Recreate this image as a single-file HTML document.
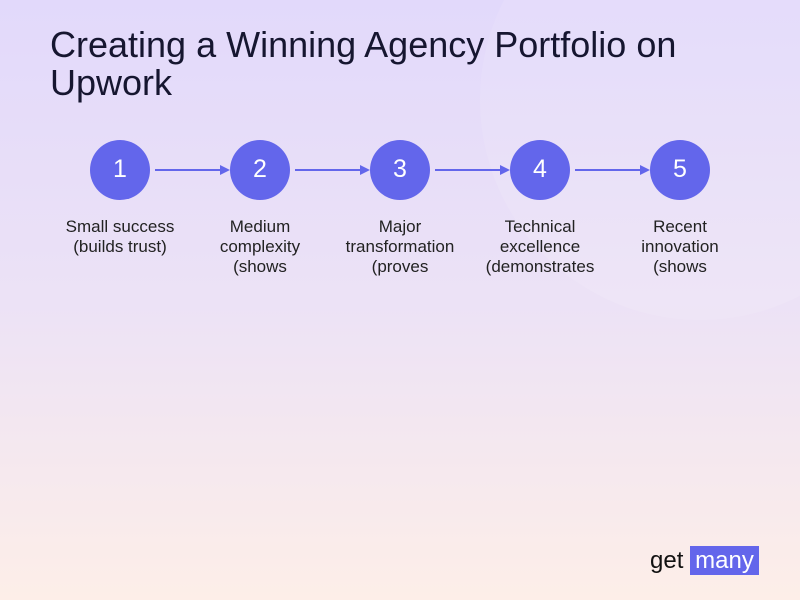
<!DOCTYPE html>
<html><head><style>
body{margin:0;width:800px;height:600px;overflow:hidden;font-family:"Liberation Sans",sans-serif;background:linear-gradient(#e2d9fb,#ece2f6 50%,#fdeee8);position:relative}
.bg{position:absolute;left:480px;top:-120px;width:440px;height:440px;border-radius:50%;background:rgba(255,255,255,0.1)}
h1{position:absolute;left:50px;top:26px;margin:0;font-weight:normal;font-size:36px;line-height:38px;color:#161630}
.c{position:absolute;top:140px;width:60px;height:60px;border-radius:50%;background:#6366eb;color:#fff;font-size:25px;text-align:center;line-height:58px}
.t{position:absolute;top:217px;width:140px;text-align:center;font-size:17px;line-height:20px;color:#222}
.logo{position:absolute;top:546px;font-size:24px}
</style></head><body>
<div class="bg"></div>
<h1>Creating a Winning Agency Portfolio on<br>Upwork</h1>
<svg width="800" height="600" style="position:absolute;left:0;top:0">
<g stroke="#6366eb" stroke-width="2" fill="#6366eb">
<line x1="155" y1="170" x2="222" y2="170"/><polygon points="230,170 220,165 220,175" stroke="none"/>
<line x1="295" y1="170" x2="362" y2="170"/><polygon points="370,170 360,165 360,175" stroke="none"/>
<line x1="435" y1="170" x2="502" y2="170"/><polygon points="510,170 500,165 500,175" stroke="none"/>
<line x1="575" y1="170" x2="642" y2="170"/><polygon points="650,170 640,165 640,175" stroke="none"/>
</g></svg>
<div class="c" style="left:90px">1</div>
<div class="c" style="left:230px">2</div>
<div class="c" style="left:370px">3</div>
<div class="c" style="left:510px">4</div>
<div class="c" style="left:650px">5</div>
<div class="t" style="left:50px">Small success<br>(builds trust)</div>
<div class="t" style="left:190px">Medium<br>complexity<br>(shows</div>
<div class="t" style="left:330px">Major<br>transformation<br>(proves</div>
<div class="t" style="left:470px">Technical<br>excellence<br>(demonstrates</div>
<div class="t" style="left:610px">Recent<br>innovation<br>(shows</div>
<div class="logo" style="left:650px;color:#111;line-height:29px">get</div>
<div class="logo" style="left:690px;width:69px;height:29px;line-height:29px;background:#6366eb;color:#fff;text-align:center">many</div>
</body></html>
